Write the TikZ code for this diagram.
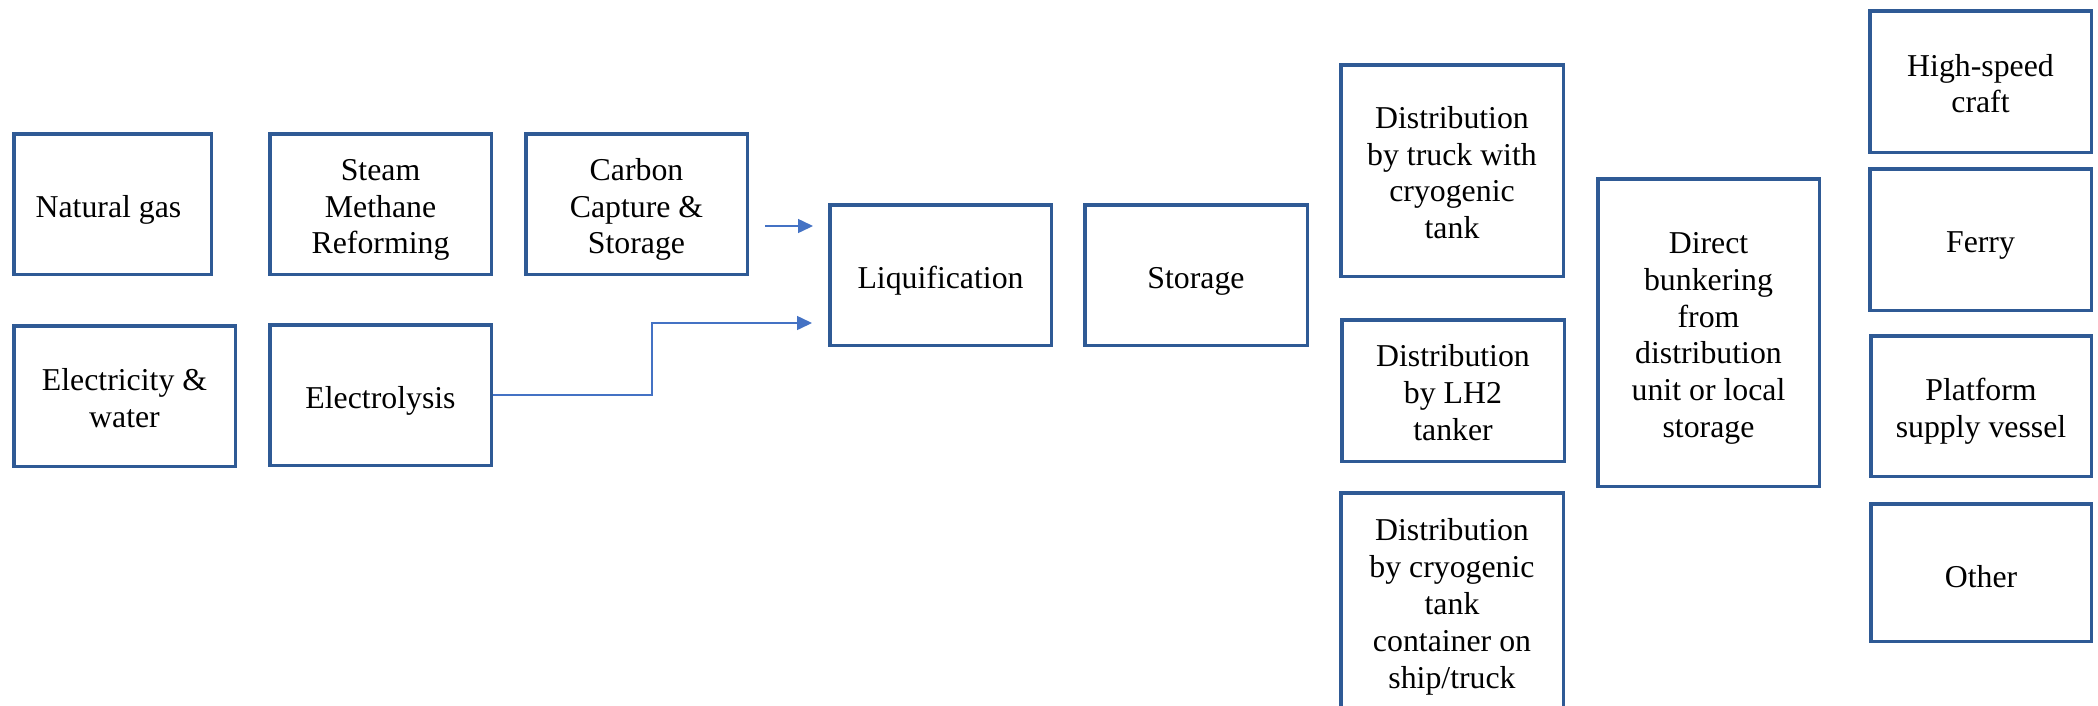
\documentclass[tikz,border=0pt]{standalone}
\usepackage{fontspec}
\setmainfont{Liberation Serif}
\usetikzlibrary{arrows.meta}
\definecolor{bcol}{HTML}{2F5A95}
\definecolor{acol}{HTML}{4472C4}
\newcommand\boxstrut{\rule[-3pt]{0pt}{36pt}}
\newcommand\ms{\rule{0pt}{33pt}}
\newcommand\me{\rule[-7pt]{0pt}{0pt}}
\begin{document}
\begin{tikzpicture}[x=1pt,y=-1pt,
  basebox/.style={draw=bcol, line width=3.5pt, inner sep=0pt, align=center,
    font=\fontsize{31.8pt}{36.8pt}\selectfont},
  box/.style={basebox, execute at begin node=\boxstrut, execute at end node=\boxstrut},
  mbox/.style={basebox},
  arr/.style={draw=acol, line width=1.5pt, -{Triangle[length=15pt,width=14pt]}}]
\useasboundingbox[fill=white] (0,0) rectangle (2098,705);
\clip (0,0) rectangle (2098,705);
\node[box, minimum width=197.5pt, minimum height=140.5pt] (ng) at (112.5,204) {Natural gas\hspace*{8pt}};
\node[mbox, minimum width=221.5pt, minimum height=140.5pt] (smr) at (380.5,204) {\ms Steam\\Methane\\Reforming\me};
\node[mbox, minimum width=221.5pt, minimum height=140.5pt] (ccs) at (636.5,204) {\ms Carbon\\Capture \&\\Storage\me};
\node[mbox, minimum width=221.5pt, minimum height=140.5pt] (ew) at (124.5,396) {\ms Electricity \&\\water\me};
\node[box, minimum width=221.5pt, minimum height=140.5pt] (ely) at (380.5,395) {Electrolysis};
\node[box, minimum width=221.5pt, minimum height=140.5pt] (liq) at (940.5,275) {Liquification};
\node[box, minimum width=222.5pt, minimum height=140.5pt] (sto) at (1196,275) {Storage};
\node[mbox, minimum width=222.5pt, minimum height=211.5pt] (dtruck) at (1452,170.5) {\ms Distribution\\by truck with\\cryogenic\\tank\me};
\node[mbox, minimum width=222.5pt, minimum height=141.5pt] (dlh) at (1453,390.5) {\ms Distribution\\by LH2\\tanker\me};
\node[mbox, minimum width=222.5pt, minimum height=217.5pt] (dcryo) at (1452,601.5) {\ms Distribution\\by cryogenic\\tank\\container on\\ship/truck\me};
\node[mbox, minimum width=221.5pt, minimum height=307.5pt] (direct) at (1708.5,332.5) {\ms Direct\\bunkering\\from\\distribution\\unit or local\\storage\me};
\node[mbox, minimum width=221.5pt, minimum height=141.5pt] (hsc) at (1980.5,81.5) {\ms High-speed\\craft\me};
\node[box, minimum width=221.5pt, minimum height=141.5pt] (ferry) at (1980.5,239.5) {Ferry};
\node[mbox, minimum width=220.5pt, minimum height=140.5pt] (psv) at (1981,406) {\ms Platform\\supply vessel\me};
\node[box, minimum width=220.5pt, minimum height=137.5pt] (other) at (1981,572.5) {Other};
\coordinate (c1s) at (765,226);
\coordinate (c1e) at (813,226);
\coordinate (c2m) at (652,395);
\coordinate (c2e) at (812,323);
\draw[arr] (c1s) -- (c1e);
\draw[arr] (ely.east) -- (c2m) |- (c2e);
\end{tikzpicture}
\end{document}
